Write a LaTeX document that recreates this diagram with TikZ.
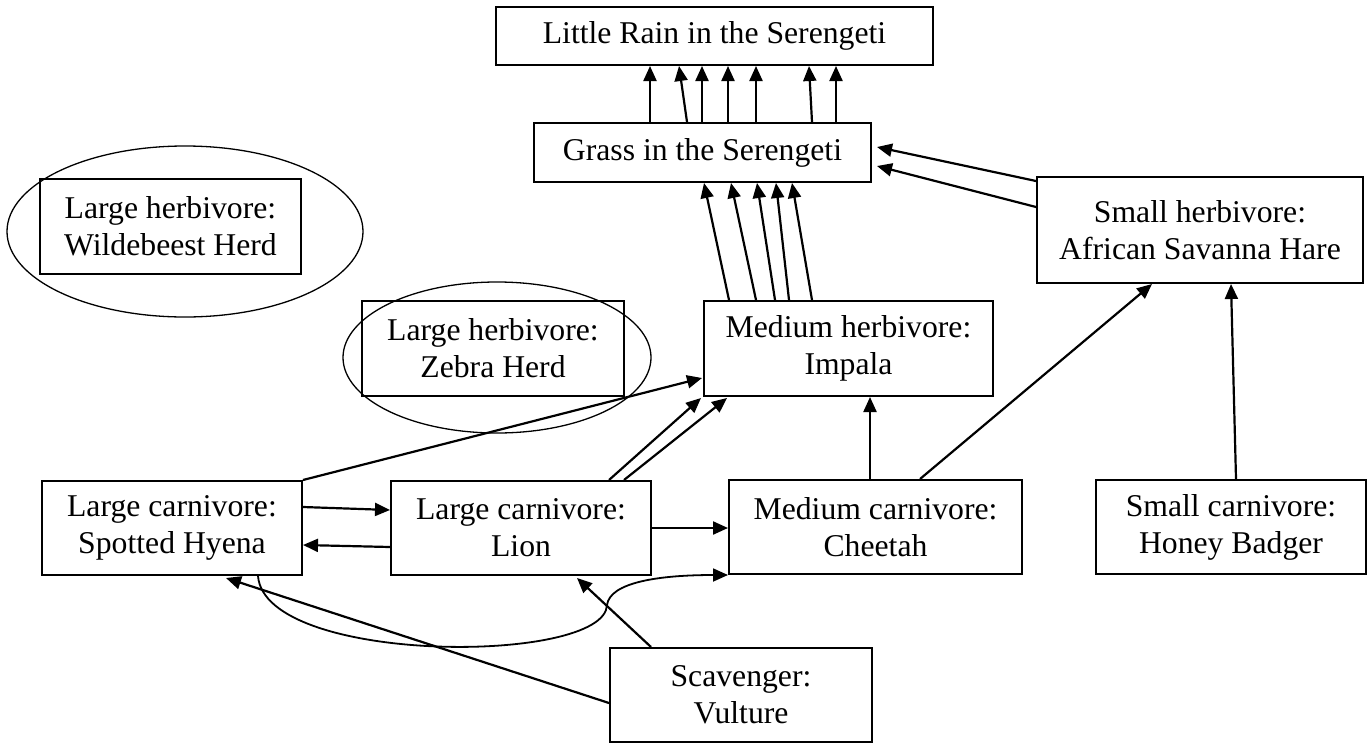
\documentclass[tikz,border=0pt]{standalone}
\usepackage{fontspec}
\setmainfont{Liberation Serif}
\usetikzlibrary{arrows.meta,calc}
\begin{document}
\begin{tikzpicture}[x=0.5pt,y=-0.5pt,
  box/.style={draw, line width=1pt, inner sep=0pt, align=center,
    font=\fontsize{15.85pt}{18.5pt}\selectfont},
  arr/.style={line width=1.1pt, -{Triangle[length=7.5pt,width=6.5pt]}},
  ring/.style={line width=0.65pt},
  loopline/.style={line width=0.9pt, -{Triangle[length=7.5pt,width=6.5pt]}}]
\useasboundingbox (0,0) rectangle (1370,744);

% producers and abiotic factor
\node[box, minimum width=218.5pt, minimum height=29pt] (rain) at (714.5,36) {Little Rain in the Serengeti};
\node[box, minimum width=168.5pt, minimum height=29.5pt] (grass) at (702.5,152.5) {Grass in the Serengeti};

% herbivores
\node[box, minimum width=130.5pt, minimum height=47.5pt] (wild) at (170.5,226.5) {Large herbivore:\\Wildebeest Herd};
\node[box, minimum width=131pt, minimum height=47.5pt] (zebra) at (493,348.5) {Large herbivore:\\Zebra Herd};
\node[box, minimum width=144.5pt, minimum height=47.5pt] (impala) at (848.5,348.5) {Medium herbivore:\\Impala};
\node[box, minimum width=163pt, minimum height=53pt] (hare) at (1200,230) {Small herbivore:\\African Savanna Hare};

% carnivores and scavenger
\node[box, minimum width=130pt, minimum height=47pt] (hyena) at (172,528) {Large carnivore:\\Spotted Hyena};
\node[box, minimum width=130pt, minimum height=47pt] (lion) at (521,528) {Large carnivore:\\Lion};
\node[box, minimum width=146.5pt, minimum height=47pt] (cheetah) at (875.5,527) {Medium carnivore:\\Cheetah};
\node[box, minimum width=135pt, minimum height=47pt] (badger) at (1231,527) {Small carnivore:\\Honey Badger};
\node[box, minimum width=131pt, minimum height=47pt] (vulture) at (741,695) {Scavenger:\\Vulture};

% rings round the large herbivores
\draw[ring] (185,231.5) ellipse [x radius=89pt, y radius=42.75pt];
\draw[ring] (497,357.5) ellipse [x radius=77pt, y radius=37.75pt];

% grass -> rain
\draw[arr] ($(grass.north west)+(117,0)$) -- ($(rain.south west)+(155,0)$);
\draw[arr] ($(grass.north west)+(154,0)$) -- ($(rain.south west)+(184,0)$);
\draw[arr] ($(grass.north west)+(169,0)$) -- ($(rain.south west)+(207,0)$);
\draw[arr] ($(grass.north west)+(195,0)$) -- ($(rain.south west)+(233,0)$);
\draw[arr] ($(grass.north west)+(223,0)$) -- ($(rain.south west)+(261,0)$);
\draw[arr] ($(grass.north west)+(279,0)$) -- ($(rain.south west)+(314,0)$);
\draw[arr] ($(grass.north west)+(303,0)$) -- ($(rain.south west)+(341,0)$);

% impala -> grass
\draw[arr] ($(impala.north west)+(26,0)$) -- ($(grass.south west)+(171,0)$);
\draw[arr] ($(impala.north west)+(53,0)$) -- ($(grass.south west)+(198,0)$);
\draw[arr] ($(impala.north west)+(72,0)$) -- ($(grass.south west)+(224,0)$);
\draw[arr] ($(impala.north west)+(86,0)$) -- ($(grass.south west)+(243,0)$);
\draw[arr] ($(impala.north west)+(109,0)$) -- ($(grass.south west)+(259,0)$);

% hare -> grass
\draw[arr] ($(hare.north west)+(0,5)$) -- ($(grass.north east)+(5,25)$);
\draw[arr] ($(hare.north west)+(0,31)$) -- ($(grass.north east)+(5,44)$);

% predators -> prey
\draw[arr] ($(cheetah.north west)+(142,0)$) -- ($(impala.south west)+(167,0)$);
\draw[arr] ($(cheetah.north west)+(192,0)$) -- ($(hare.south west)+(116,0)$);
\draw[arr] ($(badger.north west)+(141,0)$) -- ($(hare.south west)+(195,0)$);
\draw[arr] (hyena.north east) -- ($(impala.south west)+(-1,-19)$);
\draw[arr] ($(lion.north west)+(219,0)$) -- ($(impala.south west)+(-2,1)$);
\draw[arr] ($(lion.north west)+(234,0)$) -- ($(impala.south west)+(24,1)$);
\draw[arr] ($(hyena.north east)+(0,27)$) -- ($(lion.north west)+(0,30)$);
\draw[arr] ($(lion.north west)+(0,67)$) -- ($(hyena.north east)+(0,65)$);
\draw[arr] (lion.east) -- (lion.east -| cheetah.west);

% scavenger -> carnivores
\draw[arr] ($(vulture.north west)+(42,0)$) -- ($(lion.south west)+(187,2)$);
\draw[arr] ($(vulture.west)+(0,8)$) -- ($(hyena.south west)+(185,2)$);

% hyena -> cheetah loop
\coordinate (bend) at (607,605);
\draw[loopline] ($(hyena.south west)+(217,0)$)
  .. controls (265,665) and (605,665) .. (bend)
  .. controls (610,582) and (660,575) .. (cheetah.south west);
\end{tikzpicture}
\end{document}
